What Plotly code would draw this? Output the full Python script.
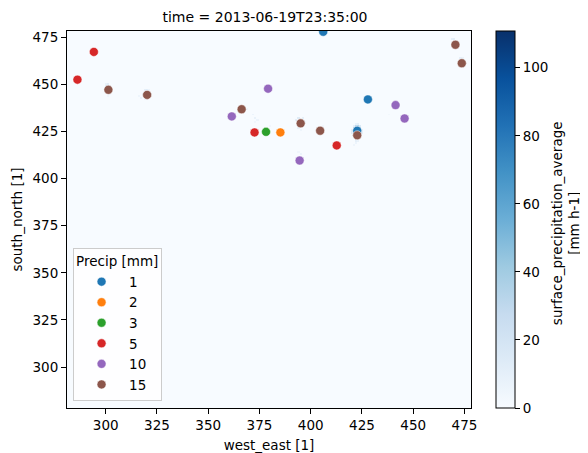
import numpy as np
import plotly.graph_objects as go

# Grid axes of the precipitation field
west_east = list(range(281, 479))
south_north = list(range(278, 479))

# Sparse rain cells: (west_east, south_north, mm h-1)
rain_cells = [
    # cell near (423, 424)
    (422, 429, 8), (423, 429, 10),
    (421, 428, 10), (422, 428, 30), (423, 428, 35), (424, 428, 15),
    (421, 427, 20), (422, 427, 50), (423, 427, 60), (424, 427, 25),
    (420, 426, 10), (421, 426, 25), (422, 426, 70), (423, 426, 80), (424, 426, 30), (425, 426, 10),
    (420, 425, 12), (421, 425, 30), (422, 425, 90), (423, 425, 110.8), (424, 425, 35), (425, 425, 10),
    (420, 424, 12), (421, 424, 30), (422, 424, 85), (423, 424, 95), (424, 424, 35), (425, 424, 10),
    (421, 423, 25), (422, 423, 60), (423, 423, 70), (424, 423, 25),
    (421, 422, 15), (422, 422, 35), (423, 422, 40), (424, 422, 15),
    (422, 421, 20), (423, 421, 20), (422, 420, 10), (423, 420, 8),
    (422, 419, 6), (421, 418, 5),
    # cell near (301, 448)
    (300, 450, 8), (301, 450, 12), (300, 449, 12), (301, 449, 18), (302, 449, 10),
    (300, 448, 10), (302, 448, 12), (301, 446, 8), (302, 445, 5), (301, 444, 4),
    # cell near (320, 445)
    (319, 447, 10), (320, 447, 12), (321, 447, 6), (318, 445, 8), (322, 445, 8),
    (316, 444, 5), (317, 443, 6), (319, 442, 6), (320, 442, 5),
    # cell near (372, 433)
    (369, 437, 5), (372, 434, 6), (373, 432, 8), (374, 431, 6), (373, 430, 4),
    # cell near (395, 430)
    (393, 431, 10), (394, 432, 14), (396, 432, 10), (397, 430, 8), (394, 427, 8), (395, 426, 5),
    # cell near (395, 411)
    (395, 413, 6), (394, 414, 4),
    # cells near the NE corner
    (469, 474, 10), (470, 474, 12), (471, 473, 8), (472, 469, 5),
    (473, 464, 10), (474, 464, 8), (475, 460, 5), (474, 459, 4),
    # faint specks
    (438, 434, 3), (380, 428, 4), (404, 427, 5), (406, 428, 4), (428, 441, 3),
]
rain_x = [c[0] for c in rain_cells]
rain_y = [c[1] for c in rain_cells]
rain_v = [c[2] for c in rain_cells]

# Station points by precipitation class
classes = ["1", "2", "3", "5", "10", "15"]
pts_x = {
    "1": [406.1, 427.9, 422.7],
    "2": [385.2],
    "3": [378.2],
    "5": [294.2, 286.2, 372.6, 412.7],
    "10": [379.2, 361.5, 394.6, 441.4, 445.8],
    "15": [301.3, 320.2, 366.3, 395.1, 404.6, 422.7, 470.6, 473.7],
}
pts_y = {
    "1": [477.9, 442.0, 425.4],
    "2": [424.5],
    "3": [424.8],
    "5": [467.2, 452.5, 424.5, 417.6],
    "10": [447.7, 433.0, 409.6, 439.0, 431.9],
    "15": [447.1, 444.4, 436.8, 429.3, 425.4, 423.0, 471.0, 461.2],
}
colors = {"1": "#1f77b4", "2": "#ff7f0e", "3": "#2ca02c", "5": "#d62728",
          "10": "#9467bd", "15": "#8c564b"}

z = np.zeros((len(south_north), len(west_east)))
for xx, yy, vv in zip(rain_x, rain_y, rain_v):
    z[south_north.index(yy), west_east.index(xx)] = vv

blues = ['rgb(247,251,255)', 'rgb(222,235,247)', 'rgb(198,219,239)', 'rgb(158,202,225)',
         'rgb(107,174,214)', 'rgb(66,146,198)', 'rgb(33,113,181)', 'rgb(8,81,156)', 'rgb(8,48,107)']
cs = [[i / 8, c] for i, c in enumerate(blues)]

FONT = "DejaVu Sans"
FS = 13.5
W, H = 580, 445          # page body has an 8 px margin
L, R, T, B = 59, 117, 23, 45

fig = go.Figure()
fig.add_trace(go.Heatmap(
    x=west_east, y=south_north, z=z, colorscale=cs, zmin=0, zmax=110.8,
    showlegend=False, hoverinfo="skip",
    colorbar=dict(
        x=1.063, xanchor="left", y=0.5, yanchor="middle", len=1, lenmode="fraction", ypad=0, xpad=0,
        thickness=19, thicknessmode="pixels", outlinewidth=1, outlinecolor="black",
        tickvals=[0, 20, 40, 60, 80, 100], ticks="outside", ticklen=5, tickcolor="black",
        tickfont=dict(family=FONT, size=FS, color="black"),
    ),
))
for c in classes:
    fig.add_trace(go.Scatter(
        x=pts_x[c], y=pts_y[c], mode="markers", name=c,
        marker=dict(color=colors[c], size=9, line=dict(color="white", width=0.5)),
    ))

fig.add_annotation(text="surface_precipitation_average<br>[mm h-1]", textangle=-90,
                   xref="paper", yref="paper", x=(556 - 8 - L) / 396, y=0.49,
                   xanchor="center", yanchor="middle", showarrow=False,
                   font=dict(family=FONT, size=FS, color="black"))

axis_common = dict(showline=True, linecolor="black", linewidth=1, mirror=True, automargin=False,
                   ticks="outside", ticklen=5, tickcolor="black", showgrid=False, zeroline=False,
                   tickfont=dict(family=FONT, size=FS, color="black"))
fig.update_layout(
    width=W, height=H,
    margin=dict(l=L, r=R, t=T, b=B, autoexpand=False),
    paper_bgcolor="white", plot_bgcolor="white",
    title=dict(text="time = 2013-06-19T23:35:00", x=(L + L + 396) / 2 / W, xanchor="center",
               y=1 - 9 / H, yanchor="middle", font=dict(family=FONT, size=14, color="black")),
    xaxis=dict(range=[281.1, 478.2], tickvals=[300, 325, 350, 375, 400, 425, 450, 475],
               title=dict(text="west_east [1]", font=dict(family=FONT, size=FS, color="black"),
                          standoff=9), **axis_common),
    yaxis=dict(range=[278.3, 478.3], tickvals=[300, 325, 350, 375, 400, 425, 450, 475],
               title=dict(text="south_north [1]", font=dict(family=FONT, size=FS, color="black"),
                          standoff=6), **axis_common),
    legend=dict(x=0.015, y=0.019, xanchor="left", yanchor="bottom",
                bgcolor="rgba(255,255,255,0.8)", bordercolor="#cccccc", borderwidth=1,
                title=dict(text="Precip [mm]", font=dict(family=FONT, size=FS, color="black")),
                font=dict(family=FONT, size=FS, color="black"), itemwidth=45),
)
fig.write_html("out.html")
